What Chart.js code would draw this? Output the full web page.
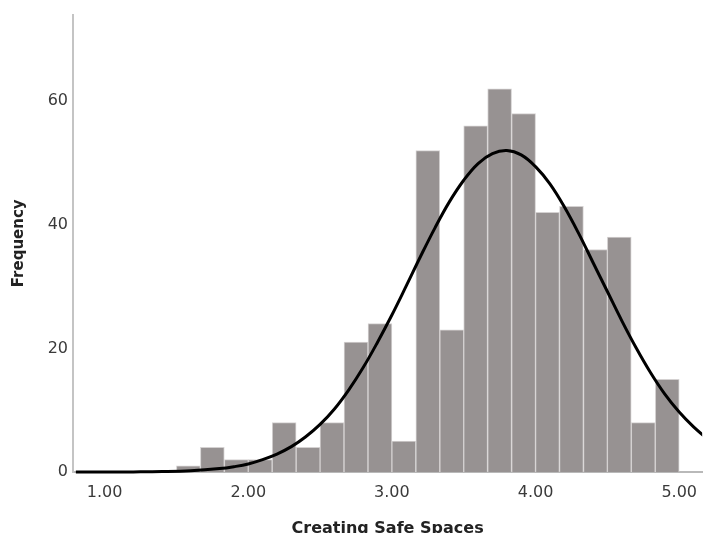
<!DOCTYPE html>
<html>
<head>
<meta charset="utf-8">
<script src="https://cdn.jsdelivr.net/npm/chart.js@4.4.1/dist/chart.umd.min.js"></script>
<style>
  html, body { margin: 0; padding: 0; background: #fff; }
  #wrap { width: 708px; height: 533px; position: relative; }
</style>
</head>
<body>
<div id="wrap"><canvas id="histChart"></canvas></div>
<script>
// ── Histogram bins (mid-points, width 1/6) and counts ───────────
const binMid = [1.583, 1.750, 1.917, 2.083, 2.250, 2.417, 2.583, 2.750, 2.917, 3.083, 3.250,
                3.417, 3.583, 3.750, 3.917, 4.083, 4.250, 4.417, 4.583, 4.750, 4.917];
const counts = [1, 4, 2, 2, 8, 4, 8, 21, 24, 5, 52,
                23, 56, 62, 58, 42, 43, 36, 38, 8, 15];

// ── Fitted normal curve ────────────────────────────────────────
const curveX = [0.8, 1.0, 1.2, 1.4, 1.6, 1.8, 1.9, 2.0, 2.1, 2.2, 2.3, 2.4, 2.5, 2.6, 2.7, 2.8, 2.9,
                3.0, 3.1, 3.2, 3.3, 3.4, 3.5, 3.6, 3.7, 3.8, 3.9, 4.0, 4.1, 4.2, 4.3, 4.4, 4.5,
                4.6, 4.7, 4.8, 4.9, 5.0, 5.1, 5.2];
const curveY = [0.0, 0.0, 0.02, 0.07, 0.21, 0.55, 0.86, 1.3, 2.0, 2.9, 4.1, 5.7, 7.7, 10.2, 13.3, 16.9, 21.0,
                25.4, 30.1, 34.9, 39.5, 43.7, 47.2, 49.9, 51.5, 52.0, 51.3, 49.4, 46.6, 42.9, 38.6, 33.9, 29.2,
                24.5, 20.1, 16.1, 12.6, 9.7, 7.3, 5.3];

// ── Axis ticks ─────────────────────────────────────────────────
const xTicks = [1, 2, 3, 4, 5];
const yTicks = [0, 20, 40, 60];

const FONT = "'DejaVu Sans', sans-serif";
const TEXT = "#3a3a3a";

new Chart(document.getElementById("histChart").getContext("2d"), {
  data: {
    datasets: [
      {
        type: "line",
        data: curveX.map((x, i) => ({ x, y: curveY[i] })),
        borderColor: "#000",
        borderWidth: 3,
        pointRadius: 0,
        tension: 0.4,
        fill: false,
        clip: { left: 0, top: 0, right: 0, bottom: 5 },
        order: 0,
      },
      {
        type: "bar",
        data: binMid.map((x, i) => ({ x, y: counts[i] })),
        backgroundColor: "#979292",
        borderColor: "#d4d1d1",
        borderWidth: 1,
        borderSkipped: "bottom",
        barPercentage: 1,
        categoryPercentage: 1,
        order: 1,
      },
    ],
  },
  options: {
    responsive: true,
    maintainAspectRatio: false,
    animation: false,
    layout: { padding: { top: 13, right: 0, left: 0, bottom: 0 } },
    plugins: { legend: { display: false }, tooltip: { enabled: false } },
    scales: {
      x: {
        type: "linear",
        min: 0.78,
        max: 5.16,
        offset: false,
        grid: { display: false, drawTicks: false },
        border: { display: true, color: "#b9b9b9", width: 2 },
        afterBuildTicks: s => { s.ticks = xTicks.map(v => ({ value: v })); },
        afterFit: s => { s.height = 61; },
        ticks: {
          color: TEXT,
          padding: 11,
          maxRotation: 0,
          font: { family: FONT, size: 16 },
          callback: v => Number(v).toFixed(2),
        },
        title: {
          display: true,
          text: "Creating Safe Spaces",
          color: "#222",
          font: { family: FONT, size: 16, weight: "bold", lineHeight: 1 },
          padding: { top: 0, bottom: -4 },
        },
      },
      y: {
        type: "linear",
        min: 0,
        max: 74,
        grid: { display: false, drawTicks: false },
        border: { display: true, color: "#c4c4c4", width: 2 },
        afterBuildTicks: s => { s.ticks = yTicks.map(v => ({ value: v })); },
        afterFit: s => { s.width = 73; },
        ticks: {
          color: TEXT,
          padding: 5,
          font: { family: FONT, size: 16 },
        },
        title: {
          display: true,
          text: "Frequency",
          color: "#222",
          font: { family: FONT, size: 15, weight: "bold", lineHeight: 1 },
          padding: { top: 12, bottom: 0 },
        },
      },
    },
  },
});
</script>
</body>
</html>
